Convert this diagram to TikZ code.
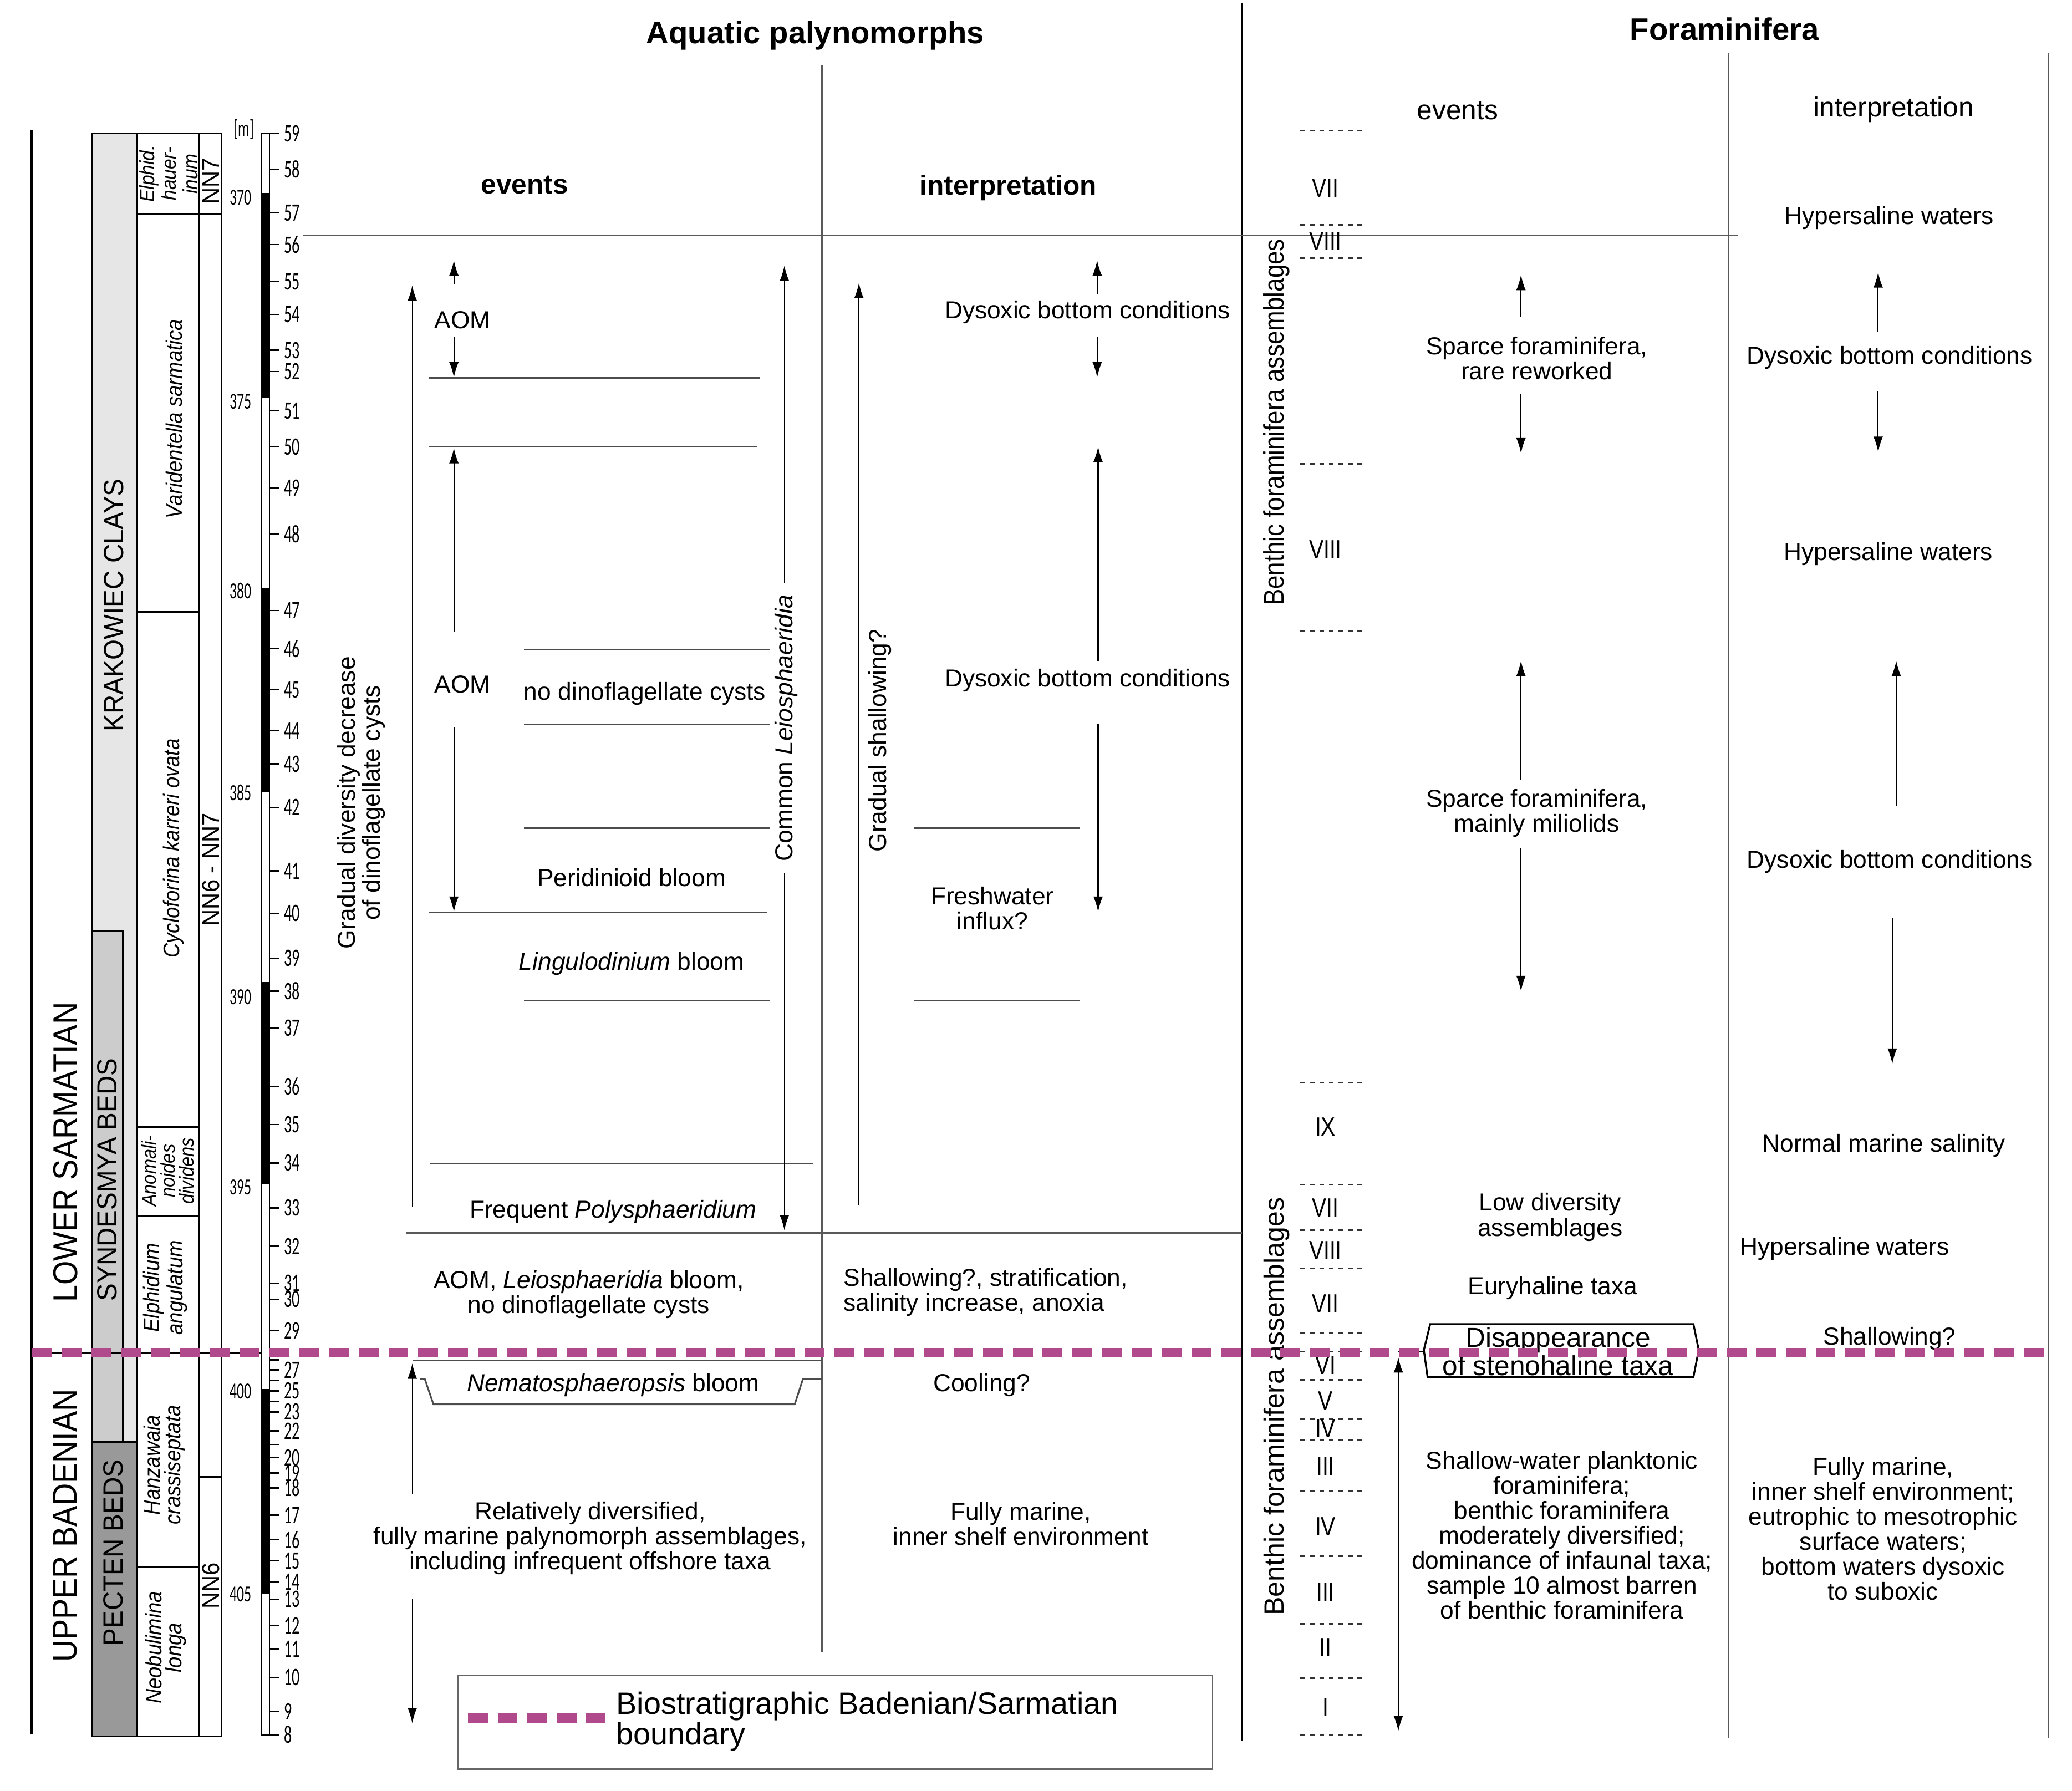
\documentclass[tikz,border=0pt]{standalone}
\usepackage{fontspec}
\setmainfont{Liberation Sans}
\newfontfamily\stagefont[FakeStretch=0.9]{Liberation Sans}
\newfontfamily\lithofont[FakeStretch=0.95]{Liberation Sans}
\newfontfamily\zonefont[FakeStretch=0.9]{Liberation Sans}
\newfontfamily\numfont[FakeStretch=0.62]{Carlito}
\newfontfamily\romfont[FakeStretch=0.82]{Liberation Sans}
\newfontfamily\benthfont[FakeStretch=0.86]{Liberation Sans}
\usetikzlibrary{arrows.meta}
\definecolor{bndcol}{RGB}{176,74,140}
\definecolor{lgray}{RGB}{230,230,230}
\definecolor{mgray}{RGB}{204,204,204}
\definecolor{dgray}{RGB}{153,153,153}
\begin{document}
\begin{tikzpicture}[x=0.5pt,y=-0.5pt,
  txt/.style={inner sep=0pt, align=center, font=\fontsize{9.3}{9.45}\selectfont},
  hdr/.style={inner sep=0pt, font=\bfseries\fontsize{11.8}{12}\selectfont},
  subb/.style={inner sep=0pt, font=\bfseries\fontsize{10.4}{11}\selectfont},
  subr/.style={inner sep=0pt, font=\fontsize{10.4}{11}\selectfont},
  roman/.style={inner sep=0pt, font=\romfont\fontsize{10}{10}\selectfont},
  stage/.style={inner sep=0pt, rotate=90, font=\stagefont\fontsize{13}{13}\selectfont},
  litho/.style={inner sep=0pt, rotate=90, font=\lithofont\fontsize{10.5}{10.5}\selectfont},
  nnlab/.style={inner sep=0pt, rotate=90, font=\lithofont\fontsize{9.2}{9.2}\selectfont},
  zone/.style={inner sep=0pt, align=center, rotate=90, font=\zonefont\itshape\fontsize{8.5}{7.7}\selectfont},
  zonesm/.style={inner sep=0pt, align=center, rotate=90, font=\zonefont\itshape\fontsize{7.8}{8.2}\selectfont},
  zonesm2/.style={inner sep=0pt, align=center, rotate=90, font=\zonefont\itshape\fontsize{7.6}{7.1}\selectfont},
  numlab/.style={inner sep=0pt, anchor=west, font=\numfont\fontsize{9.5}{9.5}\selectfont},
  agelab/.style={inner sep=0pt, font=\numfont\fontsize{8.7}{8.7}\selectfont},
  benth/.style={inner sep=0pt, rotate=90, font=\benthfont\fontsize{10.7}{10.7}\selectfont},
  benthb/.style={inner sep=0pt, rotate=90, font=\fontsize{10.5}{10.5}\selectfont},
  arr/.style={-{Latex[length=5.8pt,width=3.6pt]}, line width=0.45pt, draw=black},
  darr/.style={{Latex[length=5.8pt,width=3.6pt]}-{Latex[length=5.8pt,width=3.6pt]}, line width=0.45pt, draw=black},
  evline/.style={line width=0.65pt, draw=black!70},
  gridl/.style={line width=0.5pt, draw=black!65},
  colb/.style={line width=0.6pt, draw=black},
  dots/.style={line width=0.6pt, draw=black!80, dash pattern=on 1.8pt off 1.8pt},
  bnd/.style={line width=3.6pt, draw=bndcol, dash pattern=on 7.5pt off 3.75pt},
]
\useasboundingbox (0,0) rectangle (1568,1355);

% ---------- headers ----------
\node[hdr] (h1) at (617,27) {Aquatic palynomorphs};
\node[hdr] (h2) at (1305,22) {Foraminifera};
\node[subb] (h3) at (397,140) {events};
\node[subb] (h4) at (763,142) {interpretation};
\node[subr] (h5) at (1103,84) {events};
\node[subr] (h6) at (1433,83) {interpretation};

% ---------- frame lines ----------
\draw[line width=0.8pt] (940,2) -- (940,1317);
\draw[gridl] (622,49) -- (622,1250);
\draw[gridl] (1308,40) -- (1308,1315);
\draw[gridl] (1550,40) -- (1550,1315);
\draw[gridl] (229,178) -- (1315,178);
\draw[gridl] (307,933) -- (940,933);

% ---------- stratigraphic columns ----------
\draw[line width=1.1pt] (24,98) -- (24,1312);
\fill[lgray] (70,101) rectangle (104,1314);
\filldraw[fill=mgray, colb] (70,704.5) rectangle (93,1091);
\filldraw[fill=dgray, colb] (70,1091) rectangle (104,1314);
\draw[colb] (70,101) rectangle (104,1314);
\draw[colb] (104,101) rectangle (151,1314);
\draw[colb] (151,101) rectangle (167.4,1314);
\draw[colb] (104,162.2) -- (167.4,162.2);
\draw[colb] (104,463) -- (151,463);
\draw[colb] (104,852.8) -- (151,852.8);
\draw[colb] (104,920) -- (151,920);
\draw[colb] (104,1185.5) -- (151,1185.5);
\draw[colb] (151,1117.6) -- (167.4,1117.6);
\draw[line width=0.6pt] (24,1023.5) -- (204,1023.5);

\node[stage] (s1) at (49.5,872) {LOWER SARMATIAN};
\node[stage] (s2) at (49.5,1154.5) {UPPER BADENIAN};
\node[litho] (l1) at (86.2,458) {KRAKOWIEC CLAYS};
\node[litho] (l2) at (81,892.6) {SYNDESMYA BEDS};
\node[litho] (l3) at (85.5,1175) {PECTEN BEDS};

\node[zonesm] (z1) at (127.5,131.5) {Elphid.\\hauer-\\inum};
\node[zone] (z2) at (131.8,317) {Varidentella sarmatica};
\node[zone] (z3) at (131.5,642) {Cycloforina karreri ovata};
\node[zonesm2] (z4) at (127,886) {Anomali-\\noides\\dividens};
\node[zone] (z5) at (125,974.4) {Elphidium\\angulatum};
\node[zone] (z6) at (124.3,1108.5) {Hanzawaia\\crassiseptata};
\node[zone] (z7) at (125.5,1246.8) {Neobulimina\\longa};

\node[nnlab] (n1) at (159.6,137) {NN7};
\node[nnlab] (n2) at (159.6,658) {NN6 - NN7};
\node[nnlab] (n3) at (159.6,1200) {NN6};

% ages
\node[agelab] (m) at (184.5,98) {[m]};
\foreach \a/\y in {370/149.6,375/303.7,380/447,385/599.7,390/754.3,395/898.5,400/1053,405/1206.5}
  \node[agelab] (age\a) at (182,\y) {\a};

% scale bar
\draw[line width=0.5pt, fill=white] (198,101) rectangle (204,1313);
\foreach \ya/\yb in {146/301,445/599,743/896,1051/1205.7}
  \fill[black] (198,\ya) rectangle (204,\yb);
\draw[line width=0.5pt] (198,101) rectangle (204,1313);
\foreach \v/\y in {59/101,58/128,57/161,56/185,55/213,54/238,53/265,52/281,51/311,50/338,49/369,48/404,47/462,46/491,45/522,44/553,43/578,42/611,41/659,40/691,39/725,38/750,37/778,36/822,35/851,34/880,33/914,32/943,31/971,30/983,29/1007,27/1036.5,25/1052.5,23/1068.4,22/1082.7,20/1103,19/1114.6,18/1126,17/1146.5,16/1165.2,15/1181,14/1197,13/1210,12/1230,11/1247.6,10/1269.3,9/1295.3,8/1312.6}{
  \draw[line width=0.5pt] (204,\y) -- (211,\y);
  \node[numlab] (t\v) at (214.5,\y) {\v};
}
\foreach \y in {1029,1044.5,1060.5,1093}
  \draw[line width=0.5pt] (204,\y) -- (211,\y);

% ---------- aquatic palynomorphs: events ----------
\draw[arr] (312,913.5) -- (312,216);
\node[txt, rotate=90] (gdd) at (273.5,607.5) {Gradual diversity decrease\\of dinoflagellate cysts};
\draw[arr] (343.5,215) -- (343.5,197);
\node[txt] (aom1) at (350,242) {AOM};
\draw[arr] (343.5,254.6) -- (343.5,285.6);
\draw[evline] (324.7,286) -- (575.4,286);
\draw[evline] (324.7,338) -- (572.7,338);
\draw[arr] (343.5,478.3) -- (343.5,339);
\node[txt] (aom2) at (350,518) {AOM};
\draw[arr] (343.5,550.6) -- (343.5,690);
\draw[evline] (396.4,491.6) -- (583,491.6);
\node[txt] (nodino) at (488,525) {no dinoflagellate cysts};
\draw[evline] (396.4,548) -- (583,548);
\draw[evline] (396.4,626.5) -- (583,626.5);
\node[txt] (perid) at (478,664) {Peridinioid bloom};
\draw[evline] (324.8,690.5) -- (580.7,690.5);
\node[txt] (lingu) at (478,729.4) {\textit{Lingulodinium} bloom};
\draw[evline] (396.4,757) -- (583,757);
\draw[evline] (325,880.5) -- (615,880.5);
\node[txt] (freqp) at (464,916.7) {Frequent \textit{Polysphaeridium}};
\draw[darr] (593.6,201) -- (593.6,931);
\node[txt, rotate=90, fill=white, inner xsep=4.5pt] (commonl) at (595,551) {Common \textit{Leiosphaeridia}};
\node[txt] (aomleio) at (445.5,979.5) {AOM, \textit{Leiosphaeridia} bloom,\\no dinoflagellate cysts};
\draw[evline] (312,1029.5) -- (622,1029.5);
\draw[evline] (318,1043.6) -- (321.5,1043.6) -- (328,1062.6) -- (601.4,1062.6) -- (607.6,1043.6) -- (622,1043.6);
\node[txt] (nema) at (464,1048) {\textit{Nematosphaeropsis} bloom};
\draw[arr] (312,1130.5) -- (312,1031.7);
\node[txt] (reldiv) at (446.6,1163.8) {Relatively diversified,\\fully marine palynomorph assemblages,\\including infrequent offshore taxa};
\draw[arr] (312,1210) -- (312,1304);

% ---------- aquatic palynomorphs: interpretation ----------
\draw[arr] (650,912) -- (650,214);
\node[txt, rotate=90] (gsh) at (665.8,560.4) {Gradual shallowing?};
\node[txt] (dys1) at (823,236.4) {Dysoxic bottom conditions};
\draw[arr] (830.3,222.4) -- (830.3,197);
\draw[arr] (830.3,254.6) -- (830.3,285.6);
\node[txt] (dys2) at (823,515) {Dysoxic bottom conditions};
\draw[arr] (831,500) -- (831,338);
\draw[arr] (831,548) -- (831,690);
\draw[evline] (692,626.5) -- (817,626.5);
\node[txt] (fresh) at (751,687.5) {Freshwater\\influx?};
\draw[evline] (692,757) -- (817,757);
\node[txt, align=left, anchor=west] (shal) at (638,978) {Shallowing?, stratification,\\salinity increase, anoxia};
\node[txt] (cool) at (743,1048) {Cooling?};
\node[txt] (fm1) at (772.5,1153) {Fully marine,\\inner shelf environment};

% ---------- legend ----------
\draw[line width=0.5pt, draw=black!60] (346.5,1267.8) rectangle (917.7,1338.6);
\draw[line width=3.75pt, draw=bndcol, dash pattern=on 7.5pt off 3.65pt] (354.3,1299.7) -- (458,1299.7);
\node[anchor=west, inner sep=0pt, align=left, font=\fontsize{11.7}{11.5}\selectfont] (leg) at (466,1302.5) {Biostratigraphic Badenian/Sarmatian\\boundary};

% ---------- foraminifera ----------
\node[benth] (ben1) at (966,319.5) {Benthic foraminifera assemblages};
\node[benthb] (ben2) at (966,1064.3) {Benthic foraminifera assemblages};
\foreach \y in {99,170,195.4,351,477.8,819.4,896.3,930.8,960,1009,1022.6,1044,1074,1090,1128,1177.5,1228.7,1270,1312.7}
  \draw[dots] (984,\y) -- (1031,\y);
\foreach \r/\y [count=\i] in {VII/142.4,VIII/182.6,VIII/416,IX/852.5,VII/914,VIII/946,VII/986.6,VI/1033,V/1060,IV/1081,III/1109.5,IV/1155,III/1204.8,II/1246.5,I/1292}
  \node[roman] (rn\i) at (1003,\y) {\r};

\node[txt] (sp1) at (1163,271) {Sparce foraminifera,\\rare reworked};
\draw[arr] (1151,240) -- (1151,208);
\draw[arr] (1151,298) -- (1151,343);
\node[txt] (sp2) at (1163,615.5) {Sparce foraminifera,\\mainly miliolids};
\draw[arr] (1151,590) -- (1151,500);
\draw[arr] (1151,642) -- (1151,750);
\node[txt] (lowd) at (1173,921) {Low diversity\\assemblages};
\node[txt] (eury) at (1175,974.6) {Euryhaline taxa};
\draw[line width=0.6pt] (1058,1022.5) -- (1295,1022.5);
\filldraw[fill=white, line width=0.7pt] (1082.3,1002) -- (1281.5,1002) -- (1285.5,1021.5) -- (1281.5,1042) -- (1080.3,1042) -- (1077.5,1021.5) -- cycle;
\node[txt, font=\fontsize{10.4}{9.5}\selectfont] (disap) at (1179,1022.7) {Disappearance\\of stenohaline taxa};
\draw[darr] (1058.2,1027) -- (1058.2,1310);
\node[txt] (shw) at (1182,1161.6) {Shallow-water planktonic\\foraminifera;\\benthic foraminifera\\moderately diversified;\\dominance of infaunal taxa;\\sample 10 almost barren\\of benthic foraminifera};

\node[txt] (hy1) at (1429.6,164.8) {Hypersaline waters};
\node[txt] (dy3) at (1430,270.7) {Dysoxic bottom conditions};
\draw[arr] (1421.3,251) -- (1421.3,206);
\draw[arr] (1421.3,296) -- (1421.3,342);
\node[txt] (hy2) at (1429,419) {Hypersaline waters};
\draw[arr] (1435,610) -- (1435,500);
\node[txt] (dy4) at (1430,652) {Dysoxic bottom conditions};
\draw[arr] (1432,695) -- (1432,805);
\node[txt] (nms) at (1425.6,866.7) {Normal marine salinity};
\node[txt] (hy3) at (1396,945) {Hypersaline waters};
\node[txt] (shq) at (1430,1012.8) {Shallowing?};
\node[txt] (fm2) at (1425,1157) {Fully marine,\\inner shelf environment;\\eutrophic to mesotrophic\\surface waters;\\bottom waters dysoxic\\to suboxic};

% ---------- boundary ----------
\draw[bnd] (24,1023.5) -- (1550.5,1023.5);
\end{tikzpicture}
\end{document}
